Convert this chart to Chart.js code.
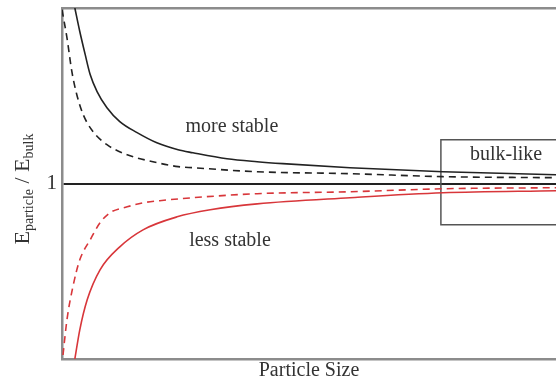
<!DOCTYPE html>
<html>
<head>
<meta charset="utf-8">
<script src="https://cdn.jsdelivr.net/npm/chart.js@4/dist/chart.umd.min.js"></script>
<style>
  html, body { margin: 0; padding: 0; background: #fff; overflow: hidden; }
  canvas { display: block; }
</style>
</head>
<body>
<canvas id="chart" width="556" height="381"></canvas>
<script>
// Curve points (x = particle size in arbitrary units, y = E_particle / E_bulk)
const solidBlackX = [0.26, 0.36, 0.47, 0.57, 0.71, 0.91, 1.17, 1.52, 1.92, 2.35, 2.65, 3.34, 3.95, 4.47, 5.83, 7.71, 10];
const solidBlackY = [2.0, 1.866, 1.734, 1.621, 1.524, 1.432, 1.353, 1.29, 1.232, 1.192, 1.175, 1.141, 1.124, 1.113, 1.09, 1.067, 1.05];

const dashedBlackX = [0.0, 0.10, 0.20, 0.30, 0.43, 0.63, 0.91, 1.32, 1.84, 2.35, 2.65, 3.95, 5.83, 7.71, 10];
const dashedBlackY = [1.99, 1.831, 1.637, 1.506, 1.392, 1.295, 1.221, 1.164, 1.124, 1.096, 1.09, 1.067, 1.056, 1.039, 1.033];

const dashedRedX = [0.02, 0.10, 0.22, 0.36, 0.57, 0.77, 0.97, 1.32, 1.64, 1.98, 2.65, 3.95, 5.83, 7.71, 10];
const dashedRedY = [0.023, 0.223, 0.411, 0.565, 0.679, 0.776, 0.833, 0.867, 0.89, 0.902, 0.919, 0.942, 0.953, 0.97, 0.976];

const solidRedX = [0.26, 0.36, 0.51, 0.77, 1.17, 1.64, 2.33, 3.0, 3.95, 5.83, 7.71, 10];
const solidRedY = [0.0, 0.166, 0.337, 0.508, 0.639, 0.736, 0.81, 0.85, 0.884, 0.919, 0.947, 0.959];

// "bulk-like" box (runs off the right edge)
const boxX = [10.5, 7.67, 7.67, 10.5];
const boxY = [1.25, 1.25, 0.765, 0.765];

// Axis ticks and labels
const yTickValues = [1];
const yTickLabels = ['1'];
const xTitle = 'Particle Size';

// Text notes placed in data coordinates
const noteText = ['more stable', 'less stable', 'bulk-like'];
const noteX = [3.44, 3.40, 8.99];
const noteY = [1.324, 0.673, 1.164];

const serif = '"Liberation Serif", "DejaVu Serif", "Times New Roman", serif';
const textColor = '#333';
const frameColor = '#8c8c8c';

const toPoints = (xs, ys) => xs.map((x, i) => ({ x: x, y: ys[i] }));

const curve = (points, color, dashed) => ({
    data: points,
    borderColor: color,
    borderWidth: 1.6,
    borderDash: dashed ? [7, 5] : [],
    pointRadius: 0,
    fill: false,
    cubicInterpolationMode: 'monotone'
});

// Draws the notes and the y-axis title (with subscripts)
const textPlugin = {
    id: 'texts',
    afterDraw(chart) {
        const ctx = chart.ctx;
        const xs = chart.scales.x;
        const ys = chart.scales.y;
        ctx.save();
        ctx.fillStyle = textColor;
        ctx.textAlign = 'center';
        ctx.textBaseline = 'middle';
        ctx.font = '20px ' + serif;
        noteText.forEach((t, i) => {
            ctx.fillText(t, xs.getPixelForValue(noteX[i]), ys.getPixelForValue(noteY[i]));
        });
        ctx.restore();

        // y-axis title: E_particle / E_bulk, rotated
        const parts = [
            { t: 'E', size: 22, dy: 0 },
            { t: 'particle', size: 14, dy: 4 },
            { t: ' / ', size: 22, dy: 0 },
            { t: 'E', size: 22, dy: 0 },
            { t: 'bulk', size: 14, dy: 4 }
        ];
        ctx.save();
        ctx.fillStyle = textColor;
        ctx.textBaseline = 'alphabetic';
        ctx.textAlign = 'left';
        let total = 0;
        parts.forEach(p => {
            ctx.font = p.size + 'px ' + serif;
            p.w = ctx.measureText(p.t).width;
            total += p.w;
        });
        ctx.translate(29, 189);
        ctx.rotate(-Math.PI / 2);
        let pos = -total / 2;
        parts.forEach(p => {
            ctx.font = p.size + 'px ' + serif;
            ctx.fillText(p.t, pos, p.dy);
            pos += p.w;
        });
        ctx.restore();
    }
};

new Chart(document.getElementById('chart').getContext('2d'), {
    type: 'line',
    data: {
        datasets: [
            curve(toPoints(solidBlackX, solidBlackY), '#222', false),
            curve(toPoints(dashedBlackX, dashedBlackY), '#222', true),
            curve(toPoints(dashedRedX, dashedRedY), '#d8363a', true),
            curve(toPoints(solidRedX, solidRedY), '#d8363a', false),
            {
                data: toPoints(boxX, boxY),
                borderColor: '#555',
                borderWidth: 1.5,
                pointRadius: 0,
                fill: false,
                tension: 0
            }
        ]
    },
    options: {
        responsive: false,
        animation: false,
        layout: { padding: 0 },
        plugins: {
            legend: { display: false },
            tooltip: { enabled: false }
        },
        scales: {
            x: {
                type: 'linear',
                min: 0,
                max: 10,
                grid: { display: false },
                ticks: { display: false },
                border: { color: frameColor, width: 2.5 },
                title: {
                    display: true,
                    text: xTitle,
                    color: textColor,
                    font: { family: serif, size: 20, lineHeight: 1 },
                    padding: { top: 0, bottom: 0 }
                },
                afterFit: (scale) => { scale.height = 22; }
            },
            // only used to draw the top frame line
            xTop: {
                type: 'linear',
                position: 'top',
                min: 0,
                max: 10,
                grid: { display: false },
                ticks: { display: false },
                border: { color: frameColor, width: 2.5 },
                afterFit: (scale) => { scale.height = 8; }
            },
            y: {
                type: 'linear',
                min: 0,
                max: 2,
                afterBuildTicks: (scale) => {
                    scale.ticks = yTickValues.map(v => ({ value: v }));
                },
                ticks: {
                    padding: 5,
                    color: textColor,
                    font: { family: serif, size: 21 },
                    callback: (value) => yTickLabels[yTickValues.indexOf(value)]
                },
                grid: { color: '#222', lineWidth: 2, drawTicks: false },
                border: { color: frameColor, width: 2.5 },
                afterFit: (scale) => {
                    scale.width = 62;
                    scale.paddingTop = 0;
                    scale.paddingBottom = 0;
                }
            }
        }
    },
    plugins: [textPlugin]
});
</script>
</body>
</html>
